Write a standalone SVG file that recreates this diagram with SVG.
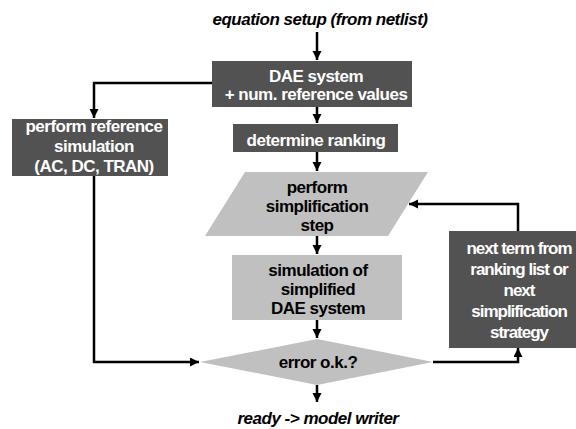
<svg xmlns="http://www.w3.org/2000/svg" width="576" height="429" viewBox="0 0 576 429">
  <style>
    text { font-family: "Liberation Sans", Arial, sans-serif; font-weight: bold; font-size: 17px; letter-spacing: -0.5px; text-anchor: middle; }
    .dark { fill: #525252; }
    .light { fill: #c0c0c0; }
    .wt { fill: #ffffff; }
    .bk { fill: #000000; }
    .it { font-style: italic; }
    .narrow { letter-spacing: -1px; }
    .edge { fill: none; stroke: #000000; stroke-width: 2.5; marker-end: url(#arrow); }
  </style>
  <defs>
    <marker id="arrow" markerUnits="userSpaceOnUse" markerWidth="10" markerHeight="10" refX="9" refY="4.5" orient="auto">
      <path d="M0,0 L9,4.5 L0,9 z" fill="#000000"/>
    </marker>
  </defs>
  <rect width="576" height="429" fill="#ffffff"/>

  <g id="connectors">
    <path class="edge" d="M317,32 L317,60"/>
    <path class="edge" d="M317,107 L317,123"/>
    <path class="edge" d="M317,152 L317,171"/>
    <path class="edge" d="M317,236 L317,254"/>
    <path class="edge" d="M317,320 L317,338"/>
    <path class="edge" d="M317,385 L317,402"/>
    <path class="edge" d="M212,83 L94,83 L94,118"/>
    <path class="edge" d="M94,176 L94,362 L199,362"/>
    <path class="edge" d="M433,362 L518,362 L518,348"/>
    <path class="edge" d="M518,231 L518,204 L409,204"/>
  </g>

  <g id="start">
    <text class="bk it" x="320" y="25" letter-spacing="-0.3">equation setup (from netlist)</text>
  </g>

  <g id="dae-system">
    <rect class="dark" x="212" y="61" width="200" height="46"/>
    <text class="wt" x="316" y="82">DAE system</text>
    <text class="wt" x="316" y="100">+ num. reference values</text>
  </g>

  <g id="ranking">
    <rect class="dark" x="233" y="124" width="165" height="28"/>
    <text class="wt" x="316" y="146" letter-spacing="-1.1">determine ranking</text>
  </g>

  <g id="reference-sim">
    <rect class="dark" x="12" y="119" width="156" height="57"/>
    <text class="wt" x="94" y="132">perform reference</text>
    <text class="wt" x="94" y="152">simulation</text>
    <text class="wt" x="94" y="172">(AC, DC, TRAN)</text>
  </g>

  <g id="simplification-step">
    <polygon class="light" points="245,172 428,172 388,236 205,236"/>
    <text class="bk" x="317" y="193">perform</text>
    <text class="bk" x="317" y="212">simplification</text>
    <text class="bk" x="317" y="231">step</text>
  </g>

  <g id="simplified-sim">
    <rect class="light" x="232" y="255" width="170" height="65"/>
    <text class="bk" x="318" y="276">simulation of</text>
    <text class="bk" x="318" y="295">simplified</text>
    <text class="bk" x="318" y="314">DAE system</text>
  </g>

  <g id="error-check">
    <polygon class="light" points="200,362 317,339 433,362 317,385"/>
    <text class="bk" x="318" y="368">error o.k.?</text>
  </g>

  <g id="next-term">
    <rect class="dark" x="449" y="231" width="127" height="117"/>
    <text class="wt narrow" x="519" y="254">next term from</text>
    <text class="wt narrow" x="519" y="275">ranking list or</text>
    <text class="wt narrow" x="519" y="296">next</text>
    <text class="wt narrow" x="519" y="317">simplification</text>
    <text class="wt narrow" x="519" y="338">strategy</text>
  </g>

  <g id="finish">
    <text class="bk it" x="318" y="424" letter-spacing="-0.3">ready -&gt; model writer</text>
  </g>
</svg>
